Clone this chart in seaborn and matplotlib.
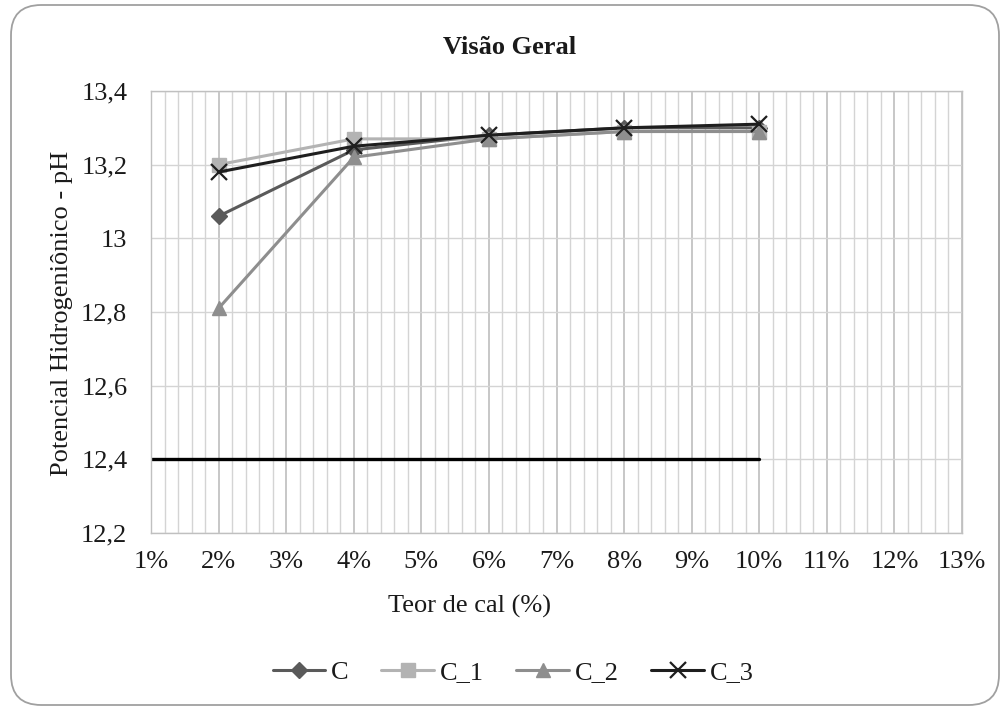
import numpy as np
import pandas as pd
import matplotlib
matplotlib.use("Agg")
import matplotlib.pyplot as plt
from matplotlib.patches import FancyBboxPatch
from matplotlib.ticker import MultipleLocator, FuncFormatter
import seaborn as sns

# ---- data ----
teor = [2, 4, 6, 8, 10]
serie_C = [13.06, 13.24, 13.28, 13.30, 13.30]
serie_C1 = [13.20, 13.27, 13.27, 13.29, 13.29]
serie_C2 = [12.81, 13.22, 13.27, 13.29, 13.29]
serie_C3 = [13.18, 13.25, 13.28, 13.30, 13.31]
series_names = ["C", "C_1", "C_2", "C_3"]
limite_x = [1, 10]
limite_y = [12.4, 12.4]

series_vals = [serie_C, serie_C1, serie_C2, serie_C3]

sns.set_theme(style="white")
plt.rcParams["font.family"] = ["Liberation Serif", "DejaVu Serif"]

FS = 19

fig = plt.figure(figsize=(10.06, 7.09), dpi=100)
# rounded outer frame
frame = FancyBboxPatch((11 / 1006, 4 / 709), 988 / 1006, 700 / 709,
                       boxstyle="round,pad=0,rounding_size=0.03",
                       transform=fig.transFigure, facecolor="white",
                       edgecolor="#a0a0a0", linewidth=1.3, zorder=-10,
                       mutation_aspect=1006 / 709)
fig.patches.append(frame)

ax = fig.add_axes([151 / 1006, 1 - 533 / 709, (962 - 151) / 1006, (533 - 91) / 709])
ax.set_zorder(1)
ax.set_facecolor("none")

palette = {"C": "#5a5a5a", "C_1": "#b3b3b3", "C_2": "#8e8e8e", "C_3": "#1e1e1e"}
markers = {"C": "D", "C_1": "s", "C_2": "^", "C_3": "x"}
msizes = {"C": 8, "C_1": 10, "C_2": 10.5, "C_3": 12}
mews = {"C": 1.0, "C_1": 1.0, "C_2": 1.0, "C_3": 1.6}

# limit line
sns.lineplot(x=limite_x, y=limite_y, color="black", lw=2.4, ax=ax, zorder=2)

handles = []
for n, vals in zip(series_names, series_vals):
    sns.lineplot(x=teor, y=vals, color=palette[n], marker=markers[n],
                 markersize=msizes[n], markeredgewidth=mews[n],
                 markeredgecolor=palette[n], linewidth=2.2, ax=ax, zorder=3)
    handles.append(ax.lines[-1])

ax.set_xlim(1, 13)
ax.set_ylim(12.2, 13.4)
ax.xaxis.set_major_locator(MultipleLocator(1))
ax.xaxis.set_minor_locator(MultipleLocator(0.2))
ax.yaxis.set_major_locator(MultipleLocator(0.2))
ax.xaxis.set_major_formatter(FuncFormatter(lambda v, p: f"{int(round(v))}%"))


def yfmt(v, p):
    s = f"{v:.1f}"
    if s.endswith(".0"):
        s = s[:-2]
    return s.replace(".", ",")


ax.yaxis.set_major_formatter(FuncFormatter(yfmt))
ax.grid(which="major", axis="x", color="#bdbdbd", lw=1.2)
ax.grid(which="minor", axis="x", color="#d4d4d4", lw=1.0)
ax.grid(which="major", axis="y", color="#d4d4d4", lw=1.0)
ax.set_axisbelow(True)
for s in ax.spines.values():
    s.set_color("#c0c0c0")
    s.set_linewidth(1.0)

ax.tick_params(axis="both", which="both", length=0, labelsize=FS, colors="#1a1a1a")
ax.tick_params(axis="y", pad=17)
ax.tick_params(axis="x", pad=13)

ax.set_xlabel("")
ax.set_ylabel("")
fig.text(469 / 1006, 1 - 606 / 709, "Teor de cal (%)", ha="center", va="center",
         fontsize=FS, color="#1a1a1a")
fig.text(62 / 1006, 1 - 313 / 709, "Potencial Hidrogeniônico - pH", ha="center",
         va="center", rotation=90, fontsize=FS, color="#1a1a1a")
fig.text(510 / 1006, 1 - 47 / 709, "Visão Geral", ha="center", va="center",
         fontsize=FS, fontweight="bold", color="#1a1a1a")

leg = fig.legend(handles, series_names, loc="center", ncol=4,
                 bbox_to_anchor=(513 / 1006, 1 - 672 / 709), frameon=False,
                 fontsize=FS, handlelength=2.0, columnspacing=1.25,
                 handletextpad=0.2)
for t in leg.get_texts():
    t.set_color("#1a1a1a")

fig.savefig("out.png", dpi=100)
